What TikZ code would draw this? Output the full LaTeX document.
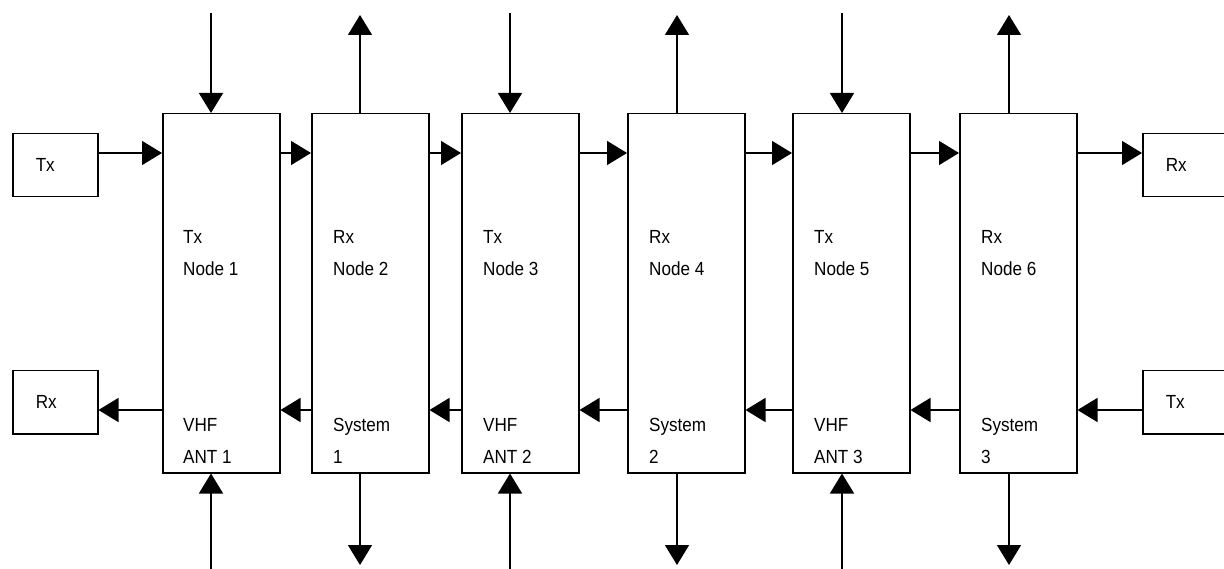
\documentclass[tikz,border=0pt]{standalone}
\usepackage{fontspec}
\setmainfont{Liberation Sans}[FakeStretch=0.9]
\usetikzlibrary{arrows.meta,calc}

\begin{document}
\begin{tikzpicture}[x=1pt, y=1pt,
  unit/.style={draw, line width=1.5pt, minimum width=117pt, minimum height=359pt, anchor=north west, inner sep=0pt},
  io/.style={draw, line width=1.5pt, minimum height=63pt, text width=39pt, inner xsep=23pt, inner ysep=0pt, align=left, anchor=north west, font=\fontsize{19}{23}\selectfont},
  lbl/.style={anchor=north west, inner sep=0pt, align=left, font=\fontsize{19}{32}\selectfont},
  arr/.style={-{Triangle[length=20pt, width=24pt]}, line width=1.5pt}]
\useasboundingbox (0,0) rectangle (1224,-569);
\clip (0,0) rectangle (1224,-569);
% terminals
\node[io] (txl) at (12,-133) {Tx};
\node[io] (rxl) at (12,-370) {Rx};
\node[io] (rxr) at (1142,-133) {Rx};
\node[io] (txr) at (1142,-370) {Tx};
% relay units
\node[unit] (b1) at (162,-113) {};
\node[unit] (b2) at (311,-113) {};
\node[unit] (b3) at (461,-113) {};
\node[unit] (b4) at (627,-113) {};
\node[unit] (b5) at (792,-113) {};
\node[unit] (b6) at (959,-113) {};
\node[lbl] (n1) at ($(b1.north west)+(21,-117)$) {Tx\\Node 1};
\node[lbl] (n2) at ($(b2.north west)+(22,-117)$) {Rx\\Node 2};
\node[lbl] (n3) at ($(b3.north west)+(22,-117)$) {Tx\\Node 3};
\node[lbl] (n4) at ($(b4.north west)+(22,-117)$) {Rx\\Node 4};
\node[lbl] (n5) at ($(b5.north west)+(22,-117)$) {Tx\\Node 5};
\node[lbl] (n6) at ($(b6.north west)+(22,-117)$) {Rx\\Node 6};
\node[lbl] (s1) at ($(b1.north west)+(21,-305)$) {VHF\\ANT 1};
\node[lbl] (s2) at ($(b2.north west)+(22,-305)$) {System\\1};
\node[lbl] (s3) at ($(b3.north west)+(22,-305)$) {VHF\\ANT 2};
\node[lbl] (s4) at ($(b4.north west)+(22,-305)$) {System\\2};
\node[lbl] (s5) at ($(b5.north west)+(22,-305)$) {VHF\\ANT 3};
\node[lbl] (s6) at ($(b6.north west)+(22,-305)$) {System\\3};
% rows and free ends
\coordinate (hi) at (0,-153);
\coordinate (lo) at (0,-410);
\coordinate (t1) at (211,-13);
\coordinate (t2) at (360,-15);
\coordinate (t3) at (510,-13);
\coordinate (t4) at (677,-15);
\coordinate (t5) at (842,-13);
\coordinate (t6) at (1009,-15);
\coordinate (d1) at (211,-572);
\coordinate (d2) at (360,-565);
\coordinate (d3) at (510,-572);
\coordinate (d4) at (677,-565);
\coordinate (d5) at (842,-572);
\coordinate (d6) at (1009,-565);
% forward chain
\draw[arr] (txl.east |- hi) -- (b1.west |- hi);
\draw[arr] (b1.east |- hi) -- (b2.west |- hi);
\draw[arr] (b2.east |- hi) -- (b3.west |- hi);
\draw[arr] (b3.east |- hi) -- (b4.west |- hi);
\draw[arr] (b4.east |- hi) -- (b5.west |- hi);
\draw[arr] (b5.east |- hi) -- (b6.west |- hi);
\draw[arr] (b6.east |- hi) -- (rxr.west |- hi);
% return chain
\draw[arr] (txr.west |- lo) -- (b6.east |- lo);
\draw[arr] (b6.west |- lo) -- (b5.east |- lo);
\draw[arr] (b5.west |- lo) -- (b4.east |- lo);
\draw[arr] (b4.west |- lo) -- (b3.east |- lo);
\draw[arr] (b3.west |- lo) -- (b2.east |- lo);
\draw[arr] (b2.west |- lo) -- (b1.east |- lo);
\draw[arr] (b1.west |- lo) -- (rxl.east |- lo);
% top
\draw[arr] (t1) -- (t1 |- b1.north);
\draw[arr] (t2 |- b2.north) -- (t2);
\draw[arr] (t3) -- (t3 |- b3.north);
\draw[arr] (t4 |- b4.north) -- (t4);
\draw[arr] (t5) -- (t5 |- b5.north);
\draw[arr] (t6 |- b6.north) -- (t6);
% bottom
\draw[arr] (d1) -- (d1 |- b1.south);
\draw[arr] (d2 |- b2.south) -- (d2);
\draw[arr] (d3) -- (d3 |- b3.south);
\draw[arr] (d4 |- b4.south) -- (d4);
\draw[arr] (d5) -- (d5 |- b5.south);
\draw[arr] (d6 |- b6.south) -- (d6);
\end{tikzpicture}
\end{document}
